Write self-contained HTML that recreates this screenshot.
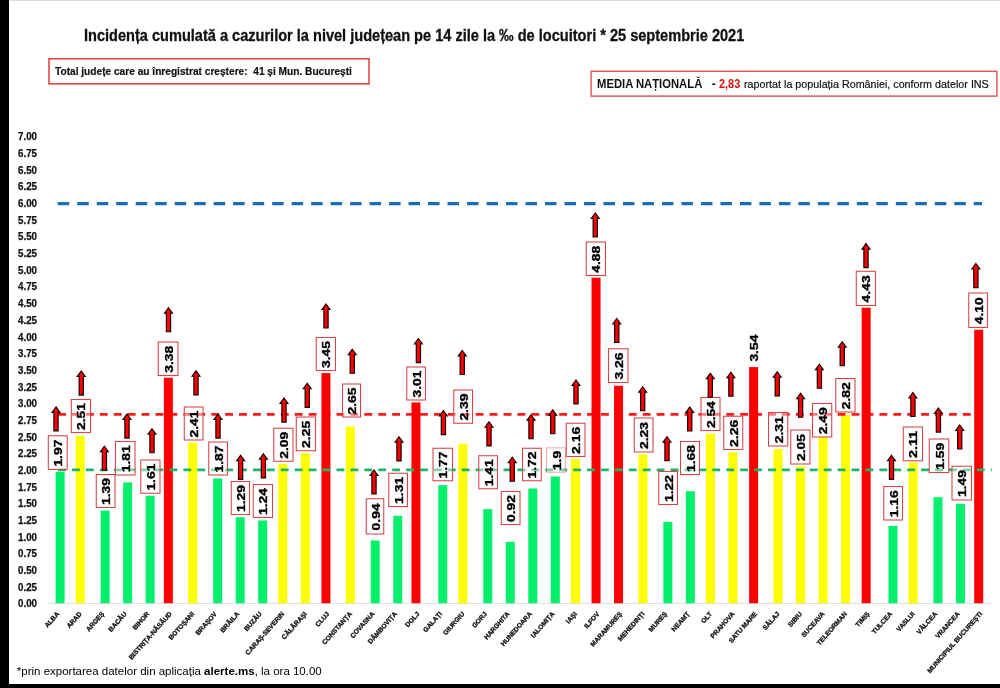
<!DOCTYPE html>
<html><head><meta charset="utf-8"><title>Incidenta</title>
<style>
html,body{margin:0;padding:0;background:#fff;}
body{width:1000px;height:688px;position:relative;overflow:hidden;font-family:"Liberation Sans",sans-serif;color:#111;}
.wrap{position:absolute;left:0;top:0;width:1000px;height:688px;will-change:transform;transform:translateZ(0);}
.lb{position:absolute;left:0;top:0;width:9.4px;height:688px;background:#000;}
.bb{position:absolute;left:0;top:683.7px;width:1000px;height:4.3px;background:#000;}
.tl{position:absolute;left:9px;top:0;width:991px;height:1px;background:#dcdcdc;}
.title{position:absolute;left:84.3px;-webkit-text-stroke:0.3px #111;top:25.8px;font-size:16px;font-weight:bold;white-space:nowrap;transform-origin:0 0;transform:scaleX(0.91);color:#111;line-height:20px;}
.box1{position:absolute;left:47.6px;top:58px;width:322.5px;height:26.8px;border:1px solid transparent;box-sizing:border-box;}
.box1 span{-webkit-text-stroke:0.2px #111;position:absolute;left:6.1px;top:5.3px;font-size:11.5px;font-weight:bold;white-space:nowrap;transform-origin:0 0;transform:scaleX(0.882);line-height:14px;color:#111;}
.box2{position:absolute;left:589.9px;top:70.4px;width:408px;height:26.8px;border:1px solid transparent;box-sizing:border-box;}
.box2 span{position:absolute;white-space:nowrap;transform-origin:0 0;line-height:14px;}
.b2a{left:6.2px;top:5.7px;font-size:12px;font-weight:bold;transform:scaleX(0.938);color:#111;}
.b2d{left:120.8px;top:5.7px;font-size:12px;font-weight:bold;color:#111;}
.b2b{left:128.1px;top:5.7px;font-size:12px;font-weight:bold;color:#e01010;transform:scaleX(0.91);}
.b2c{left:153.3px;top:6.1px;font-size:11.5px;transform:scaleX(0.934);color:#111;-webkit-text-stroke:0.2px #111;}
.yl{position:absolute;left:18px;width:20px;font-size:10.5px;font-weight:bold;line-height:12px;white-space:nowrap;transform-origin:0 50%;transform:scaleX(0.93);color:#111;-webkit-text-stroke:0.25px #111;}
.title,.box1,.box2,.yl,.foot{filter:blur(0.3px);}
.chart{position:absolute;left:0;top:0;filter:blur(0.4px);font-family:"Liberation Sans",sans-serif;}
.foot{position:absolute;left:16.8px;top:664.4px;font-size:11.5px;white-space:nowrap;transform-origin:0 0;transform:scaleX(1.0);color:#000;line-height:14px;}
</style></head><body>
<div class="wrap"><div class="tl"></div>
<div class="title">Incidența cumulată a cazurilor la nivel județean pe 14 zile la ‰ de locuitori * 25 septembrie 2021</div>
<div class="box1"><span>Total județe care au înregistrat creștere:&nbsp; 41 și Mun. București</span></div>
<div class="box2"><span class="b2a">MEDIA NAȚIONALĂ</span><span class="b2d">-</span><span class="b2b">2,83</span><span class="b2c">raportat la populația României, conform datelor INS</span></div>
<div class="yl" style="top:130.40px">7.00</div>
<div class="yl" style="top:147.08px">6.75</div>
<div class="yl" style="top:163.75px">6.50</div>
<div class="yl" style="top:180.43px">6.25</div>
<div class="yl" style="top:197.10px">6.00</div>
<div class="yl" style="top:213.78px">5.75</div>
<div class="yl" style="top:230.45px">5.50</div>
<div class="yl" style="top:247.13px">5.25</div>
<div class="yl" style="top:263.80px">5.00</div>
<div class="yl" style="top:280.48px">4.75</div>
<div class="yl" style="top:297.15px">4.50</div>
<div class="yl" style="top:313.83px">4.25</div>
<div class="yl" style="top:330.50px">4.00</div>
<div class="yl" style="top:347.18px">3.75</div>
<div class="yl" style="top:363.85px">3.50</div>
<div class="yl" style="top:380.53px">3.25</div>
<div class="yl" style="top:397.20px">3.00</div>
<div class="yl" style="top:413.88px">2.75</div>
<div class="yl" style="top:430.55px">2.50</div>
<div class="yl" style="top:447.23px">2.25</div>
<div class="yl" style="top:463.90px">2.00</div>
<div class="yl" style="top:480.58px">1.75</div>
<div class="yl" style="top:497.25px">1.50</div>
<div class="yl" style="top:513.93px">1.25</div>
<div class="yl" style="top:530.60px">1.00</div>
<div class="yl" style="top:547.28px">0.75</div>
<div class="yl" style="top:563.95px">0.50</div>
<div class="yl" style="top:580.63px">0.25</div>
<div class="yl" style="top:597.30px">0.00</div>
<svg class="chart" width="1000" height="688" viewBox="0 0 1000 688">
<line x1="47" y1="603.5" x2="991" y2="603.5" stroke="#dedede" stroke-width="1"/>
<rect x="49" y="58.75" width="320" height="25.1" fill="none" stroke="#e03c3c" stroke-width="1.5"/>
<rect x="591.1" y="71.3" width="405.8" height="24.8" fill="none" stroke="#e45252" stroke-width="1.4"/>
<rect x="55.60" y="471.80" width="9.00" height="131.40" fill="#04f06c"/>
<rect x="75.71" y="435.78" width="9.00" height="167.42" fill="#ffff00"/>
<rect x="100.62" y="510.49" width="9.00" height="92.71" fill="#04f06c"/>
<rect x="123.13" y="482.47" width="9.00" height="120.73" fill="#04f06c"/>
<rect x="145.64" y="495.81" width="9.00" height="107.39" fill="#04f06c"/>
<rect x="163.85" y="377.75" width="9.00" height="225.45" fill="#ff0000"/>
<rect x="188.26" y="442.45" width="9.00" height="160.75" fill="#ffff00"/>
<rect x="213.17" y="478.47" width="9.00" height="124.73" fill="#04f06c"/>
<rect x="235.68" y="517.16" width="9.00" height="86.04" fill="#04f06c"/>
<rect x="258.19" y="520.49" width="9.00" height="82.71" fill="#04f06c"/>
<rect x="278.30" y="463.80" width="9.00" height="139.40" fill="#ffff00"/>
<rect x="300.81" y="453.12" width="9.00" height="150.08" fill="#ffff00"/>
<rect x="321.42" y="373.09" width="9.00" height="230.12" fill="#ff0000"/>
<rect x="345.83" y="426.45" width="9.00" height="176.75" fill="#ffff00"/>
<rect x="370.74" y="540.50" width="9.00" height="62.70" fill="#04f06c"/>
<rect x="393.25" y="515.82" width="9.00" height="87.38" fill="#04f06c"/>
<rect x="411.46" y="402.43" width="9.00" height="200.77" fill="#ff0000"/>
<rect x="438.27" y="485.14" width="9.00" height="118.06" fill="#04f06c"/>
<rect x="458.38" y="443.79" width="9.00" height="159.41" fill="#ffff00"/>
<rect x="483.29" y="509.15" width="9.00" height="94.05" fill="#04f06c"/>
<rect x="505.80" y="541.84" width="9.00" height="61.36" fill="#04f06c"/>
<rect x="528.31" y="488.48" width="9.00" height="114.72" fill="#04f06c"/>
<rect x="550.82" y="476.47" width="9.00" height="126.73" fill="#04f06c"/>
<rect x="570.93" y="459.13" width="9.00" height="144.07" fill="#ffff00"/>
<rect x="591.54" y="277.70" width="9.00" height="325.50" fill="#ff0000"/>
<rect x="614.05" y="385.76" width="9.00" height="217.44" fill="#ff0000"/>
<rect x="638.46" y="454.46" width="9.00" height="148.74" fill="#ffff00"/>
<rect x="663.37" y="521.83" width="9.00" height="81.37" fill="#04f06c"/>
<rect x="685.88" y="491.14" width="9.00" height="112.06" fill="#04f06c"/>
<rect x="705.99" y="433.78" width="9.00" height="169.42" fill="#ffff00"/>
<rect x="728.50" y="452.46" width="9.00" height="150.74" fill="#ffff00"/>
<rect x="749.11" y="367.08" width="9.00" height="236.12" fill="#ff0000"/>
<rect x="773.52" y="449.12" width="9.00" height="154.08" fill="#ffff00"/>
<rect x="796.03" y="466.47" width="9.00" height="136.73" fill="#ffff00"/>
<rect x="818.54" y="437.12" width="9.00" height="166.08" fill="#ffff00"/>
<rect x="841.05" y="415.11" width="9.00" height="188.09" fill="#ffff00"/>
<rect x="861.66" y="307.72" width="9.00" height="295.48" fill="#ff0000"/>
<rect x="888.47" y="525.83" width="9.00" height="77.37" fill="#04f06c"/>
<rect x="908.58" y="462.46" width="9.00" height="140.74" fill="#ffff00"/>
<rect x="933.49" y="497.15" width="9.00" height="106.05" fill="#04f06c"/>
<rect x="956.00" y="503.82" width="9.00" height="99.38" fill="#04f06c"/>
<rect x="974.21" y="329.73" width="9.00" height="273.47" fill="#ff0000"/>
<line x1="57.75" y1="203.6" x2="982" y2="203.6" stroke="#1a6db8" stroke-width="3.4" stroke-dasharray="11.5 7.99"/>
<line x1="58.1" y1="414.44" x2="981" y2="414.44" stroke="#ff0000" stroke-opacity="0.9" stroke-width="2.8" stroke-dasharray="7.85 6.07"/>
<line x1="58.1" y1="469.80" x2="991.7" y2="469.80" stroke="#1cb56a" stroke-width="2.8" stroke-dasharray="7.85 6.07"/>
<rect x="48.30" y="435.75" width="18.90" height="33.75" fill="#fff" fill-opacity="0.42" stroke="#d84444" stroke-opacity="1" stroke-width="1.05"/>
<text transform="translate(58.55 453.12) rotate(-90)" text-anchor="middle" dy="3.70" font-size="10.5" font-weight="bold" stroke="#000" stroke-width="0.35" textLength="27.00" lengthAdjust="spacingAndGlyphs">1.97</text>
<rect x="71.30" y="399.50" width="19.20" height="33.00" fill="#fff" fill-opacity="0.42" stroke="#d84444" stroke-opacity="1" stroke-width="1.05"/>
<text transform="translate(81.70 416.50) rotate(-90)" text-anchor="middle" dy="3.70" font-size="10.5" font-weight="bold" stroke="#000" stroke-width="0.35" textLength="27.00" lengthAdjust="spacingAndGlyphs">2.51</text>
<rect x="96.25" y="474.50" width="18.75" height="33.00" fill="#fff" fill-opacity="0.42" stroke="#d84444" stroke-opacity="1" stroke-width="1.05"/>
<text transform="translate(106.42 491.50) rotate(-90)" text-anchor="middle" dy="3.70" font-size="10.5" font-weight="bold" stroke="#000" stroke-width="0.35" textLength="27.00" lengthAdjust="spacingAndGlyphs">1.39</text>
<rect x="115.50" y="441.50" width="19.50" height="33.50" fill="#fff" fill-opacity="0.42" stroke="#d84444" stroke-opacity="1" stroke-width="1.05"/>
<text transform="translate(126.05 458.75) rotate(-90)" text-anchor="middle" dy="3.70" font-size="10.5" font-weight="bold" stroke="#000" stroke-width="0.35" textLength="27.00" lengthAdjust="spacingAndGlyphs">1.81</text>
<rect x="140.75" y="460.00" width="19.25" height="33.25" fill="#fff" fill-opacity="0.42" stroke="#d84444" stroke-opacity="1" stroke-width="1.05"/>
<text transform="translate(151.18 477.12) rotate(-90)" text-anchor="middle" dy="3.70" font-size="10.5" font-weight="bold" stroke="#000" stroke-width="0.35" textLength="27.00" lengthAdjust="spacingAndGlyphs">1.61</text>
<rect x="158.25" y="342.00" width="19.75" height="33.50" fill="#fff" fill-opacity="0.42" stroke="#d84444" stroke-opacity="1" stroke-width="1.05"/>
<text transform="translate(168.93 359.25) rotate(-90)" text-anchor="middle" dy="3.70" font-size="10.5" font-weight="bold" stroke="#000" stroke-width="0.35" textLength="27.00" lengthAdjust="spacingAndGlyphs">3.38</text>
<rect x="184.25" y="407.00" width="18.75" height="33.00" fill="#fff" fill-opacity="0.42" stroke="#d84444" stroke-opacity="1" stroke-width="1.05"/>
<text transform="translate(194.43 424.00) rotate(-90)" text-anchor="middle" dy="3.70" font-size="10.5" font-weight="bold" stroke="#000" stroke-width="0.35" textLength="27.00" lengthAdjust="spacingAndGlyphs">2.41</text>
<rect x="208.75" y="442.00" width="18.75" height="33.00" fill="#fff" fill-opacity="0.42" stroke="#d84444" stroke-opacity="1" stroke-width="1.05"/>
<text transform="translate(218.93 459.00) rotate(-90)" text-anchor="middle" dy="3.70" font-size="10.5" font-weight="bold" stroke="#000" stroke-width="0.35" textLength="27.00" lengthAdjust="spacingAndGlyphs">1.87</text>
<rect x="231.25" y="481.50" width="18.25" height="33.00" fill="#fff" fill-opacity="0.42" stroke="#d84444" stroke-opacity="1" stroke-width="1.05"/>
<text transform="translate(241.18 498.50) rotate(-90)" text-anchor="middle" dy="3.70" font-size="10.5" font-weight="bold" stroke="#000" stroke-width="0.35" textLength="27.00" lengthAdjust="spacingAndGlyphs">1.29</text>
<rect x="253.25" y="484.50" width="19.25" height="33.00" fill="#fff" fill-opacity="0.42" stroke="#d84444" stroke-opacity="1" stroke-width="1.05"/>
<text transform="translate(263.68 501.50) rotate(-90)" text-anchor="middle" dy="3.70" font-size="10.5" font-weight="bold" stroke="#000" stroke-width="0.35" textLength="27.00" lengthAdjust="spacingAndGlyphs">1.24</text>
<rect x="273.75" y="428.25" width="19.25" height="33.00" fill="#fff" fill-opacity="0.42" stroke="#d84444" stroke-opacity="1" stroke-width="1.05"/>
<text transform="translate(284.18 445.25) rotate(-90)" text-anchor="middle" dy="3.70" font-size="10.5" font-weight="bold" stroke="#000" stroke-width="0.35" textLength="27.00" lengthAdjust="spacingAndGlyphs">2.09</text>
<rect x="296.25" y="417.00" width="19.25" height="33.75" fill="#fff" fill-opacity="0.42" stroke="#d84444" stroke-opacity="1" stroke-width="1.05"/>
<text transform="translate(306.68 434.38) rotate(-90)" text-anchor="middle" dy="3.70" font-size="10.5" font-weight="bold" stroke="#000" stroke-width="0.35" textLength="27.00" lengthAdjust="spacingAndGlyphs">2.25</text>
<rect x="316.25" y="337.50" width="19.25" height="33.00" fill="#fff" fill-opacity="0.42" stroke="#d84444" stroke-opacity="1" stroke-width="1.05"/>
<text transform="translate(326.68 354.50) rotate(-90)" text-anchor="middle" dy="3.70" font-size="10.5" font-weight="bold" stroke="#000" stroke-width="0.35" textLength="27.00" lengthAdjust="spacingAndGlyphs">3.45</text>
<rect x="342.50" y="384.00" width="18.00" height="33.00" fill="#fff" fill-opacity="0.42" stroke="#d84444" stroke-opacity="1" stroke-width="1.05"/>
<text transform="translate(352.30 401.00) rotate(-90)" text-anchor="middle" dy="3.70" font-size="10.5" font-weight="bold" stroke="#000" stroke-width="0.35" textLength="27.00" lengthAdjust="spacingAndGlyphs">2.65</text>
<rect x="366.25" y="498.75" width="17.50" height="35.25" fill="#fff" fill-opacity="0.42" stroke="#d84444" stroke-opacity="1" stroke-width="1.05"/>
<text transform="translate(375.80 516.88) rotate(-90)" text-anchor="middle" dy="3.70" font-size="10.5" font-weight="bold" stroke="#000" stroke-width="0.35" textLength="27.00" lengthAdjust="spacingAndGlyphs">0.94</text>
<rect x="388.75" y="473.25" width="18.75" height="33.25" fill="#fff" fill-opacity="0.42" stroke="#d84444" stroke-opacity="1" stroke-width="1.05"/>
<text transform="translate(398.93 490.38) rotate(-90)" text-anchor="middle" dy="3.70" font-size="10.5" font-weight="bold" stroke="#000" stroke-width="0.35" textLength="27.00" lengthAdjust="spacingAndGlyphs">1.31</text>
<rect x="406.75" y="367.00" width="18.75" height="33.00" fill="#fff" fill-opacity="0.42" stroke="#d84444" stroke-opacity="1" stroke-width="1.05"/>
<text transform="translate(416.93 384.00) rotate(-90)" text-anchor="middle" dy="3.70" font-size="10.5" font-weight="bold" stroke="#000" stroke-width="0.35" textLength="27.00" lengthAdjust="spacingAndGlyphs">3.01</text>
<rect x="433.00" y="448.25" width="19.50" height="32.50" fill="#fff" fill-opacity="0.42" stroke="#d84444" stroke-opacity="1" stroke-width="1.05"/>
<text transform="translate(443.55 465.00) rotate(-90)" text-anchor="middle" dy="3.70" font-size="10.5" font-weight="bold" stroke="#000" stroke-width="0.35" textLength="27.00" lengthAdjust="spacingAndGlyphs">1.77</text>
<rect x="453.75" y="390.00" width="18.75" height="33.25" fill="#fff" fill-opacity="0.42" stroke="#d84444" stroke-opacity="1" stroke-width="1.05"/>
<text transform="translate(463.93 407.12) rotate(-90)" text-anchor="middle" dy="3.70" font-size="10.5" font-weight="bold" stroke="#000" stroke-width="0.35" textLength="27.00" lengthAdjust="spacingAndGlyphs">2.39</text>
<rect x="478.75" y="455.75" width="18.75" height="33.00" fill="#fff" fill-opacity="0.42" stroke="#d84444" stroke-opacity="1" stroke-width="1.05"/>
<text transform="translate(488.93 472.75) rotate(-90)" text-anchor="middle" dy="3.70" font-size="10.5" font-weight="bold" stroke="#000" stroke-width="0.35" textLength="27.00" lengthAdjust="spacingAndGlyphs">1.41</text>
<rect x="501.25" y="491.50" width="18.75" height="33.00" fill="#fff" fill-opacity="0.42" stroke="#d84444" stroke-opacity="1" stroke-width="1.05"/>
<text transform="translate(511.43 508.50) rotate(-90)" text-anchor="middle" dy="3.70" font-size="10.5" font-weight="bold" stroke="#000" stroke-width="0.35" textLength="27.00" lengthAdjust="spacingAndGlyphs">0.92</text>
<rect x="522.50" y="448.25" width="18.75" height="32.50" fill="#fff" fill-opacity="0.42" stroke="#d84444" stroke-opacity="1" stroke-width="1.05"/>
<text transform="translate(532.67 465.00) rotate(-90)" text-anchor="middle" dy="3.70" font-size="10.5" font-weight="bold" stroke="#000" stroke-width="0.35" textLength="27.00" lengthAdjust="spacingAndGlyphs">1.72</text>
<rect x="546.60" y="447.90" width="18.80" height="24.30" fill="#fff" fill-opacity="0.42" stroke="#d84444" stroke-opacity="0.45" stroke-width="1.05"/>
<text transform="translate(556.80 460.55) rotate(-90)" text-anchor="middle" dy="3.70" font-size="10.5" font-weight="bold" stroke="#000" stroke-width="0.35" textLength="19.44" lengthAdjust="spacingAndGlyphs">1.9</text>
<rect x="566.25" y="423.25" width="18.75" height="33.25" fill="#fff" fill-opacity="0.42" stroke="#d84444" stroke-opacity="1" stroke-width="1.05"/>
<text transform="translate(576.42 440.38) rotate(-90)" text-anchor="middle" dy="3.70" font-size="10.5" font-weight="bold" stroke="#000" stroke-width="0.35" textLength="27.00" lengthAdjust="spacingAndGlyphs">2.16</text>
<rect x="586.25" y="242.00" width="19.25" height="33.50" fill="#fff" fill-opacity="0.42" stroke="#d84444" stroke-opacity="1" stroke-width="1.05"/>
<text transform="translate(596.67 259.25) rotate(-90)" text-anchor="middle" dy="3.70" font-size="10.5" font-weight="bold" stroke="#000" stroke-width="0.35" textLength="27.00" lengthAdjust="spacingAndGlyphs">4.88</text>
<rect x="608.50" y="348.75" width="19.50" height="33.75" fill="#fff" fill-opacity="0.42" stroke="#d84444" stroke-opacity="1" stroke-width="1.05"/>
<text transform="translate(619.05 366.12) rotate(-90)" text-anchor="middle" dy="3.70" font-size="10.5" font-weight="bold" stroke="#000" stroke-width="0.35" textLength="27.00" lengthAdjust="spacingAndGlyphs">3.26</text>
<rect x="634.25" y="418.00" width="18.75" height="34.00" fill="#fff" fill-opacity="0.42" stroke="#d84444" stroke-opacity="1" stroke-width="1.05"/>
<text transform="translate(644.42 435.50) rotate(-90)" text-anchor="middle" dy="3.70" font-size="10.5" font-weight="bold" stroke="#000" stroke-width="0.35" textLength="27.00" lengthAdjust="spacingAndGlyphs">2.23</text>
<rect x="658.75" y="471.50" width="18.75" height="33.00" fill="#fff" fill-opacity="0.42" stroke="#d84444" stroke-opacity="1" stroke-width="1.05"/>
<text transform="translate(668.92 488.50) rotate(-90)" text-anchor="middle" dy="3.70" font-size="10.5" font-weight="bold" stroke="#000" stroke-width="0.35" textLength="27.00" lengthAdjust="spacingAndGlyphs">1.22</text>
<rect x="680.50" y="441.50" width="19.00" height="33.00" fill="#fff" fill-opacity="0.42" stroke="#d84444" stroke-opacity="1" stroke-width="1.05"/>
<text transform="translate(690.80 458.50) rotate(-90)" text-anchor="middle" dy="3.70" font-size="10.5" font-weight="bold" stroke="#000" stroke-width="0.35" textLength="27.00" lengthAdjust="spacingAndGlyphs">1.68</text>
<rect x="701.00" y="397.50" width="19.00" height="33.00" fill="#fff" fill-opacity="0.42" stroke="#d84444" stroke-opacity="1" stroke-width="1.05"/>
<text transform="translate(711.30 414.50) rotate(-90)" text-anchor="middle" dy="3.70" font-size="10.5" font-weight="bold" stroke="#000" stroke-width="0.35" textLength="27.00" lengthAdjust="spacingAndGlyphs">2.54</text>
<rect x="723.75" y="416.25" width="19.00" height="33.25" fill="#fff" fill-opacity="0.42" stroke="#d84444" stroke-opacity="1" stroke-width="1.05"/>
<text transform="translate(734.05 433.38) rotate(-90)" text-anchor="middle" dy="3.70" font-size="10.5" font-weight="bold" stroke="#000" stroke-width="0.35" textLength="27.00" lengthAdjust="spacingAndGlyphs">2.26</text>
<text transform="translate(754.30 348.10) rotate(-90)" text-anchor="middle" dy="3.70" font-size="10.5" font-weight="bold" stroke="#000" stroke-width="0.35" textLength="27.00" lengthAdjust="spacingAndGlyphs">3.54</text>
<rect x="768.50" y="412.50" width="19.25" height="33.50" fill="#fff" fill-opacity="0.42" stroke="#d84444" stroke-opacity="1" stroke-width="1.05"/>
<text transform="translate(778.92 429.75) rotate(-90)" text-anchor="middle" dy="3.70" font-size="10.5" font-weight="bold" stroke="#000" stroke-width="0.35" textLength="27.00" lengthAdjust="spacingAndGlyphs">2.31</text>
<rect x="790.75" y="430.00" width="19.25" height="34.00" fill="#fff" fill-opacity="0.42" stroke="#d84444" stroke-opacity="1" stroke-width="1.05"/>
<text transform="translate(801.17 447.50) rotate(-90)" text-anchor="middle" dy="3.70" font-size="10.5" font-weight="bold" stroke="#000" stroke-width="0.35" textLength="27.00" lengthAdjust="spacingAndGlyphs">2.05</text>
<rect x="812.50" y="403.50" width="19.25" height="33.50" fill="#fff" fill-opacity="0.42" stroke="#d84444" stroke-opacity="1" stroke-width="1.05"/>
<text transform="translate(822.92 420.75) rotate(-90)" text-anchor="middle" dy="3.70" font-size="10.5" font-weight="bold" stroke="#000" stroke-width="0.35" textLength="27.00" lengthAdjust="spacingAndGlyphs">2.49</text>
<rect x="835.75" y="378.50" width="19.25" height="33.50" fill="#fff" fill-opacity="0.42" stroke="#d84444" stroke-opacity="1" stroke-width="1.05"/>
<text transform="translate(846.17 395.75) rotate(-90)" text-anchor="middle" dy="3.70" font-size="10.5" font-weight="bold" stroke="#000" stroke-width="0.35" textLength="27.00" lengthAdjust="spacingAndGlyphs">2.82</text>
<rect x="856.25" y="271.25" width="19.25" height="34.25" fill="#fff" fill-opacity="0.42" stroke="#d84444" stroke-opacity="1" stroke-width="1.05"/>
<text transform="translate(866.67 288.88) rotate(-90)" text-anchor="middle" dy="3.70" font-size="10.5" font-weight="bold" stroke="#000" stroke-width="0.35" textLength="27.00" lengthAdjust="spacingAndGlyphs">4.43</text>
<rect x="883.75" y="486.50" width="18.75" height="33.50" fill="#fff" fill-opacity="0.42" stroke="#d84444" stroke-opacity="1" stroke-width="1.05"/>
<text transform="translate(893.92 503.75) rotate(-90)" text-anchor="middle" dy="3.70" font-size="10.5" font-weight="bold" stroke="#000" stroke-width="0.35" textLength="27.00" lengthAdjust="spacingAndGlyphs">1.16</text>
<rect x="903.25" y="427.00" width="19.25" height="33.75" fill="#fff" fill-opacity="0.42" stroke="#d84444" stroke-opacity="1" stroke-width="1.05"/>
<text transform="translate(913.67 444.38) rotate(-90)" text-anchor="middle" dy="3.70" font-size="10.5" font-weight="bold" stroke="#000" stroke-width="0.35" textLength="27.00" lengthAdjust="spacingAndGlyphs">2.11</text>
<rect x="929.25" y="439.00" width="19.50" height="33.50" fill="#fff" fill-opacity="0.42" stroke="#d84444" stroke-opacity="1" stroke-width="1.05"/>
<text transform="translate(939.80 456.25) rotate(-90)" text-anchor="middle" dy="3.70" font-size="10.5" font-weight="bold" stroke="#000" stroke-width="0.35" textLength="27.00" lengthAdjust="spacingAndGlyphs">1.59</text>
<rect x="952.00" y="466.25" width="19.50" height="33.75" fill="#fff" fill-opacity="0.42" stroke="#d84444" stroke-opacity="1" stroke-width="1.05"/>
<text transform="translate(962.55 483.62) rotate(-90)" text-anchor="middle" dy="3.70" font-size="10.5" font-weight="bold" stroke="#000" stroke-width="0.35" textLength="27.00" lengthAdjust="spacingAndGlyphs">1.49</text>
<rect x="968.75" y="293.00" width="18.75" height="34.50" fill="#fff" fill-opacity="0.42" stroke="#d84444" stroke-opacity="1" stroke-width="1.05"/>
<text transform="translate(978.92 310.75) rotate(-90)" text-anchor="middle" dy="3.70" font-size="10.5" font-weight="bold" stroke="#000" stroke-width="0.35" textLength="27.00" lengthAdjust="spacingAndGlyphs">4.10</text>
<polygon points="56.00,406.90 59.90,412.30 58.10,412.30 58.10,430.90 53.90,430.90 53.90,412.30 52.10,412.30" fill="#ff0000" stroke="#1a0000" stroke-width="1.2" stroke-linejoin="miter"/>
<polygon points="81.25,371.12 85.15,376.52 83.35,376.52 83.35,395.12 79.15,395.12 79.15,376.52 77.35,376.52" fill="#ff0000" stroke="#1a0000" stroke-width="1.2" stroke-linejoin="miter"/>
<polygon points="104.40,446.25 108.30,451.65 106.50,451.65 106.50,470.25 102.30,470.25 102.30,451.65 100.50,451.65" fill="#ff0000" stroke="#1a0000" stroke-width="1.2" stroke-linejoin="miter"/>
<polygon points="127.00,414.12 130.90,419.52 129.10,419.52 129.10,438.12 124.90,438.12 124.90,419.52 123.10,419.52" fill="#ff0000" stroke="#1a0000" stroke-width="1.2" stroke-linejoin="miter"/>
<polygon points="152.00,428.75 155.90,434.15 154.10,434.15 154.10,452.75 149.90,452.75 149.90,434.15 148.10,434.15" fill="#ff0000" stroke="#1a0000" stroke-width="1.2" stroke-linejoin="miter"/>
<polygon points="168.50,307.75 172.40,313.15 170.60,313.15 170.60,331.75 166.40,331.75 166.40,313.15 164.60,313.15" fill="#ff0000" stroke="#1a0000" stroke-width="1.2" stroke-linejoin="miter"/>
<polygon points="196.00,370.88 199.90,376.27 198.10,376.27 198.10,394.88 193.90,394.88 193.90,376.27 192.10,376.27" fill="#ff0000" stroke="#1a0000" stroke-width="1.2" stroke-linejoin="miter"/>
<polygon points="218.00,414.12 221.90,419.52 220.10,419.52 220.10,438.12 215.90,438.12 215.90,419.52 214.10,419.52" fill="#ff0000" stroke="#1a0000" stroke-width="1.2" stroke-linejoin="miter"/>
<polygon points="240.60,455.38 244.50,460.77 242.70,460.77 242.70,479.38 238.50,479.38 238.50,460.77 236.70,460.77" fill="#ff0000" stroke="#1a0000" stroke-width="1.2" stroke-linejoin="miter"/>
<polygon points="263.40,453.88 267.30,459.27 265.50,459.27 265.50,477.88 261.30,477.88 261.30,459.27 259.50,459.27" fill="#ff0000" stroke="#1a0000" stroke-width="1.2" stroke-linejoin="miter"/>
<polygon points="284.00,398.12 287.90,403.52 286.10,403.52 286.10,422.12 281.90,422.12 281.90,403.52 280.10,403.52" fill="#ff0000" stroke="#1a0000" stroke-width="1.2" stroke-linejoin="miter"/>
<polygon points="307.25,383.38 311.15,388.77 309.35,388.77 309.35,407.38 305.15,407.38 305.15,388.77 303.35,388.77" fill="#ff0000" stroke="#1a0000" stroke-width="1.2" stroke-linejoin="miter"/>
<polygon points="326.00,304.00 329.90,309.40 328.10,309.40 328.10,328.00 323.90,328.00 323.90,309.40 322.10,309.40" fill="#ff0000" stroke="#1a0000" stroke-width="1.2" stroke-linejoin="miter"/>
<polygon points="352.25,349.25 356.15,354.65 354.35,354.65 354.35,373.25 350.15,373.25 350.15,354.65 348.35,354.65" fill="#ff0000" stroke="#1a0000" stroke-width="1.2" stroke-linejoin="miter"/>
<polygon points="374.00,470.00 377.90,475.40 376.10,475.40 376.10,494.00 371.90,494.00 371.90,475.40 370.10,475.40" fill="#ff0000" stroke="#1a0000" stroke-width="1.2" stroke-linejoin="miter"/>
<polygon points="399.00,436.88 402.90,442.27 401.10,442.27 401.10,460.88 396.90,460.88 396.90,442.27 395.10,442.27" fill="#ff0000" stroke="#1a0000" stroke-width="1.2" stroke-linejoin="miter"/>
<polygon points="418.40,338.62 422.30,344.02 420.50,344.02 420.50,362.62 416.30,362.62 416.30,344.02 414.50,344.02" fill="#ff0000" stroke="#1a0000" stroke-width="1.2" stroke-linejoin="miter"/>
<polygon points="443.40,410.62 447.30,416.02 445.50,416.02 445.50,434.62 441.30,434.62 441.30,416.02 439.50,416.02" fill="#ff0000" stroke="#1a0000" stroke-width="1.2" stroke-linejoin="miter"/>
<polygon points="462.25,350.50 466.15,355.90 464.35,355.90 464.35,374.50 460.15,374.50 460.15,355.90 458.35,355.90" fill="#ff0000" stroke="#1a0000" stroke-width="1.2" stroke-linejoin="miter"/>
<polygon points="489.00,421.88 492.90,427.27 491.10,427.27 491.10,445.88 486.90,445.88 486.90,427.27 485.10,427.27" fill="#ff0000" stroke="#1a0000" stroke-width="1.2" stroke-linejoin="miter"/>
<polygon points="512.25,457.25 516.15,462.65 514.35,462.65 514.35,481.25 510.15,481.25 510.15,462.65 508.35,462.65" fill="#ff0000" stroke="#1a0000" stroke-width="1.2" stroke-linejoin="miter"/>
<polygon points="531.00,414.75 534.90,420.15 533.10,420.15 533.10,438.75 528.90,438.75 528.90,420.15 527.10,420.15" fill="#ff0000" stroke="#1a0000" stroke-width="1.2" stroke-linejoin="miter"/>
<polygon points="552.75,409.75 556.65,415.15 554.85,415.15 554.85,433.75 550.65,433.75 550.65,415.15 548.85,415.15" fill="#ff0000" stroke="#1a0000" stroke-width="1.2" stroke-linejoin="miter"/>
<polygon points="576.00,380.00 579.90,385.40 578.10,385.40 578.10,404.00 573.90,404.00 573.90,385.40 572.10,385.40" fill="#ff0000" stroke="#1a0000" stroke-width="1.2" stroke-linejoin="miter"/>
<polygon points="595.25,213.00 599.15,218.40 597.35,218.40 597.35,237.00 593.15,237.00 593.15,218.40 591.35,218.40" fill="#ff0000" stroke="#1a0000" stroke-width="1.2" stroke-linejoin="miter"/>
<polygon points="616.75,318.50 620.65,323.90 618.85,323.90 618.85,342.50 614.65,342.50 614.65,323.90 612.85,323.90" fill="#ff0000" stroke="#1a0000" stroke-width="1.2" stroke-linejoin="miter"/>
<polygon points="642.70,386.75 646.60,392.15 644.80,392.15 644.80,410.75 640.60,410.75 640.60,392.15 638.80,392.15" fill="#ff0000" stroke="#1a0000" stroke-width="1.2" stroke-linejoin="miter"/>
<polygon points="667.00,436.75 670.90,442.15 669.10,442.15 669.10,460.75 664.90,460.75 664.90,442.15 663.10,442.15" fill="#ff0000" stroke="#1a0000" stroke-width="1.2" stroke-linejoin="miter"/>
<polygon points="689.75,407.00 693.65,412.40 691.85,412.40 691.85,431.00 687.65,431.00 687.65,412.40 685.85,412.40" fill="#ff0000" stroke="#1a0000" stroke-width="1.2" stroke-linejoin="miter"/>
<polygon points="710.30,373.25 714.20,378.65 712.40,378.65 712.40,397.25 708.20,397.25 708.20,378.65 706.40,378.65" fill="#ff0000" stroke="#1a0000" stroke-width="1.2" stroke-linejoin="miter"/>
<polygon points="730.90,372.25 734.80,377.65 733.00,377.65 733.00,396.25 728.80,396.25 728.80,377.65 727.00,377.65" fill="#ff0000" stroke="#1a0000" stroke-width="1.2" stroke-linejoin="miter"/>
<polygon points="777.25,371.88 781.15,377.27 779.35,377.27 779.35,395.88 775.15,395.88 775.15,377.27 773.35,377.27" fill="#ff0000" stroke="#1a0000" stroke-width="1.2" stroke-linejoin="miter"/>
<polygon points="800.60,393.25 804.50,398.65 802.70,398.65 802.70,417.25 798.50,417.25 798.50,398.65 796.70,398.65" fill="#ff0000" stroke="#1a0000" stroke-width="1.2" stroke-linejoin="miter"/>
<polygon points="819.40,364.25 823.30,369.65 821.50,369.65 821.50,388.25 817.30,388.25 817.30,369.65 815.50,369.65" fill="#ff0000" stroke="#1a0000" stroke-width="1.2" stroke-linejoin="miter"/>
<polygon points="842.25,341.75 846.15,347.15 844.35,347.15 844.35,365.75 840.15,365.75 840.15,347.15 838.35,347.15" fill="#ff0000" stroke="#1a0000" stroke-width="1.2" stroke-linejoin="miter"/>
<polygon points="866.00,243.62 869.90,249.03 868.10,249.03 868.10,267.62 863.90,267.62 863.90,249.03 862.10,249.03" fill="#ff0000" stroke="#1a0000" stroke-width="1.2" stroke-linejoin="miter"/>
<polygon points="891.50,455.38 895.40,460.77 893.60,460.77 893.60,479.38 889.40,479.38 889.40,460.77 887.60,460.77" fill="#ff0000" stroke="#1a0000" stroke-width="1.2" stroke-linejoin="miter"/>
<polygon points="912.90,392.50 916.80,397.90 915.00,397.90 915.00,416.50 910.80,416.50 910.80,397.90 909.00,397.90" fill="#ff0000" stroke="#1a0000" stroke-width="1.2" stroke-linejoin="miter"/>
<polygon points="938.40,408.12 942.30,413.52 940.50,413.52 940.50,432.12 936.30,432.12 936.30,413.52 934.50,413.52" fill="#ff0000" stroke="#1a0000" stroke-width="1.2" stroke-linejoin="miter"/>
<polygon points="959.75,425.00 963.65,430.40 961.85,430.40 961.85,449.00 957.65,449.00 957.65,430.40 955.85,430.40" fill="#ff0000" stroke="#1a0000" stroke-width="1.2" stroke-linejoin="miter"/>
<polygon points="975.90,263.62 979.80,269.02 978.00,269.02 978.00,287.62 973.80,287.62 973.80,269.02 972.00,269.02" fill="#ff0000" stroke="#1a0000" stroke-width="1.2" stroke-linejoin="miter"/>
<text transform="translate(59.70 614.20) rotate(-48.5)" text-anchor="end" font-size="6.65" font-weight="bold" fill="#111" stroke="#111" stroke-width="0.3">ALBA</text>
<text transform="translate(82.21 614.20) rotate(-48.5)" text-anchor="end" font-size="6.65" font-weight="bold" fill="#111" stroke="#111" stroke-width="0.3">ARAD</text>
<text transform="translate(104.72 614.20) rotate(-48.5)" text-anchor="end" font-size="6.65" font-weight="bold" fill="#111" stroke="#111" stroke-width="0.3">ARGEȘ</text>
<text transform="translate(127.23 614.20) rotate(-48.5)" text-anchor="end" font-size="6.65" font-weight="bold" fill="#111" stroke="#111" stroke-width="0.3">BACĂU</text>
<text transform="translate(149.74 614.20) rotate(-48.5)" text-anchor="end" font-size="6.65" font-weight="bold" fill="#111" stroke="#111" stroke-width="0.3">BIHOR</text>
<text transform="translate(172.25 614.20) rotate(-48.5)" text-anchor="end" font-size="6.65" font-weight="bold" fill="#111" stroke="#111" stroke-width="0.3">BISTRIȚA-NĂSĂUD</text>
<text transform="translate(194.76 614.20) rotate(-48.5)" text-anchor="end" font-size="6.65" font-weight="bold" fill="#111" stroke="#111" stroke-width="0.3">BOTOȘANI</text>
<text transform="translate(217.27 614.20) rotate(-48.5)" text-anchor="end" font-size="6.65" font-weight="bold" fill="#111" stroke="#111" stroke-width="0.3">BRAȘOV</text>
<text transform="translate(239.78 614.20) rotate(-48.5)" text-anchor="end" font-size="6.65" font-weight="bold" fill="#111" stroke="#111" stroke-width="0.3">BRĂILA</text>
<text transform="translate(262.29 614.20) rotate(-48.5)" text-anchor="end" font-size="6.65" font-weight="bold" fill="#111" stroke="#111" stroke-width="0.3">BUZĂU</text>
<text transform="translate(284.80 614.20) rotate(-48.5)" text-anchor="end" font-size="6.65" font-weight="bold" fill="#111" stroke="#111" stroke-width="0.3">CARAȘ-SEVERIN</text>
<text transform="translate(307.31 614.20) rotate(-48.5)" text-anchor="end" font-size="6.65" font-weight="bold" fill="#111" stroke="#111" stroke-width="0.3">CĂLĂRAȘI</text>
<text transform="translate(329.82 614.20) rotate(-48.5)" text-anchor="end" font-size="6.65" font-weight="bold" fill="#111" stroke="#111" stroke-width="0.3">CLUJ</text>
<text transform="translate(352.33 614.20) rotate(-48.5)" text-anchor="end" font-size="6.65" font-weight="bold" fill="#111" stroke="#111" stroke-width="0.3">CONSTANȚA</text>
<text transform="translate(374.84 614.20) rotate(-48.5)" text-anchor="end" font-size="6.65" font-weight="bold" fill="#111" stroke="#111" stroke-width="0.3">COVASNA</text>
<text transform="translate(397.35 614.20) rotate(-48.5)" text-anchor="end" font-size="6.65" font-weight="bold" fill="#111" stroke="#111" stroke-width="0.3">DÂMBOVIȚA</text>
<text transform="translate(419.86 614.20) rotate(-48.5)" text-anchor="end" font-size="6.65" font-weight="bold" fill="#111" stroke="#111" stroke-width="0.3">DOLJ</text>
<text transform="translate(442.37 614.20) rotate(-48.5)" text-anchor="end" font-size="6.65" font-weight="bold" fill="#111" stroke="#111" stroke-width="0.3">GALAȚI</text>
<text transform="translate(464.88 614.20) rotate(-48.5)" text-anchor="end" font-size="6.65" font-weight="bold" fill="#111" stroke="#111" stroke-width="0.3">GIURGIU</text>
<text transform="translate(487.39 614.20) rotate(-48.5)" text-anchor="end" font-size="6.65" font-weight="bold" fill="#111" stroke="#111" stroke-width="0.3">GORJ</text>
<text transform="translate(509.90 614.20) rotate(-48.5)" text-anchor="end" font-size="6.65" font-weight="bold" fill="#111" stroke="#111" stroke-width="0.3">HARGHITA</text>
<text transform="translate(532.41 614.20) rotate(-48.5)" text-anchor="end" font-size="6.65" font-weight="bold" fill="#111" stroke="#111" stroke-width="0.3">HUNEDOARA</text>
<text transform="translate(554.92 614.20) rotate(-48.5)" text-anchor="end" font-size="6.65" font-weight="bold" fill="#111" stroke="#111" stroke-width="0.3">IALOMIȚA</text>
<text transform="translate(577.43 614.20) rotate(-48.5)" text-anchor="end" font-size="6.65" font-weight="bold" fill="#111" stroke="#111" stroke-width="0.3">IAȘI</text>
<text transform="translate(599.94 614.20) rotate(-48.5)" text-anchor="end" font-size="6.65" font-weight="bold" fill="#111" stroke="#111" stroke-width="0.3">ILFOV</text>
<text transform="translate(622.45 614.20) rotate(-48.5)" text-anchor="end" font-size="6.65" font-weight="bold" fill="#111" stroke="#111" stroke-width="0.3">MARAMUREȘ</text>
<text transform="translate(644.96 614.20) rotate(-48.5)" text-anchor="end" font-size="6.65" font-weight="bold" fill="#111" stroke="#111" stroke-width="0.3">MEHEDINȚI</text>
<text transform="translate(667.47 614.20) rotate(-48.5)" text-anchor="end" font-size="6.65" font-weight="bold" fill="#111" stroke="#111" stroke-width="0.3">MUREȘ</text>
<text transform="translate(689.98 614.20) rotate(-48.5)" text-anchor="end" font-size="6.65" font-weight="bold" fill="#111" stroke="#111" stroke-width="0.3">NEAMȚ</text>
<text transform="translate(712.49 614.20) rotate(-48.5)" text-anchor="end" font-size="6.65" font-weight="bold" fill="#111" stroke="#111" stroke-width="0.3">OLT</text>
<text transform="translate(735.00 614.20) rotate(-48.5)" text-anchor="end" font-size="6.65" font-weight="bold" fill="#111" stroke="#111" stroke-width="0.3">PRAHOVA</text>
<text transform="translate(757.51 614.20) rotate(-48.5)" text-anchor="end" font-size="6.65" font-weight="bold" fill="#111" stroke="#111" stroke-width="0.3">SATU MARE</text>
<text transform="translate(780.02 614.20) rotate(-48.5)" text-anchor="end" font-size="6.65" font-weight="bold" fill="#111" stroke="#111" stroke-width="0.3">SĂLAJ</text>
<text transform="translate(802.53 614.20) rotate(-48.5)" text-anchor="end" font-size="6.65" font-weight="bold" fill="#111" stroke="#111" stroke-width="0.3">SIBIU</text>
<text transform="translate(825.04 614.20) rotate(-48.5)" text-anchor="end" font-size="6.65" font-weight="bold" fill="#111" stroke="#111" stroke-width="0.3">SUCEAVA</text>
<text transform="translate(847.55 614.20) rotate(-48.5)" text-anchor="end" font-size="6.65" font-weight="bold" fill="#111" stroke="#111" stroke-width="0.3">TELEORMAN</text>
<text transform="translate(870.06 614.20) rotate(-48.5)" text-anchor="end" font-size="6.65" font-weight="bold" fill="#111" stroke="#111" stroke-width="0.3">TIMIȘ</text>
<text transform="translate(892.57 614.20) rotate(-48.5)" text-anchor="end" font-size="6.65" font-weight="bold" fill="#111" stroke="#111" stroke-width="0.3">TULCEA</text>
<text transform="translate(915.08 614.20) rotate(-48.5)" text-anchor="end" font-size="6.65" font-weight="bold" fill="#111" stroke="#111" stroke-width="0.3">VASLUI</text>
<text transform="translate(937.59 614.20) rotate(-48.5)" text-anchor="end" font-size="6.65" font-weight="bold" fill="#111" stroke="#111" stroke-width="0.3">VÂLCEA</text>
<text transform="translate(960.10 614.20) rotate(-48.5)" text-anchor="end" font-size="6.65" font-weight="bold" fill="#111" stroke="#111" stroke-width="0.3">VRANCEA</text>
<text transform="translate(982.61 614.20) rotate(-48.5)" text-anchor="end" font-size="6.65" font-weight="bold" fill="#111" stroke="#111" stroke-width="0.3">MUNICIPIUL BUCUREȘTI</text>
</svg>
<div class="foot">*prin exportarea datelor din aplicația <b>alerte.ms</b>, la ora 10.00</div>
<div class="lb"></div><div class="bb"></div></div>
</body></html>
